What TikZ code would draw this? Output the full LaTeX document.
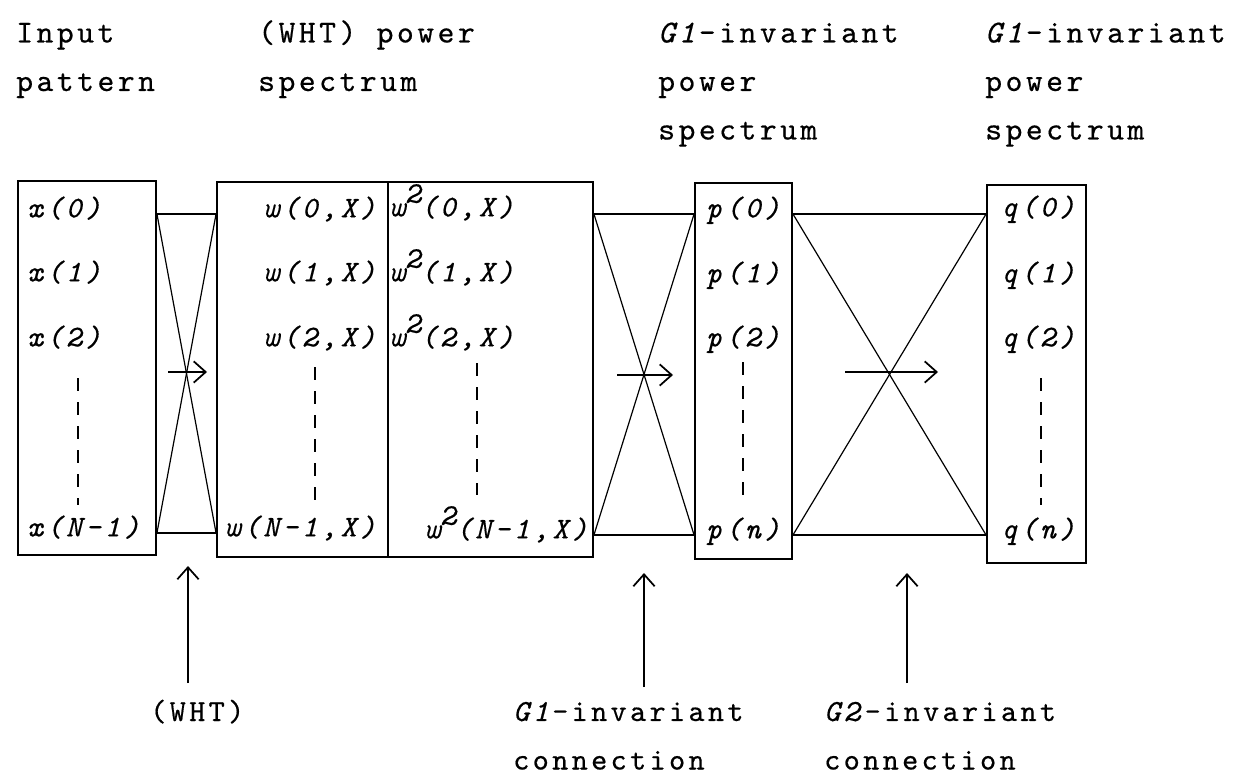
\documentclass[tikz,border=0pt]{standalone}
\usepackage{fontspec}
\usetikzlibrary{arrows.meta}
\newfontfamily\lblfont{lmmono10-regular.otf}[ItalicFont=lmmono10-italic.otf,LetterSpace=12,FakeBold=0.5]
\newfontfamily\hdrfont{lmmono10-regular.otf}[ItalicFont=lmmono10-italic.otf,LetterSpace=11,FakeBold=0.5]
\begin{document}
\begin{tikzpicture}[x=0.75pt,y=-0.75pt,
  box/.style={draw,line width=1.4pt,inner sep=0pt},
  cell/.style={inner sep=0pt,text height=0.75em,text depth=0.25em,font={\lblfont\itshape\fontsize{22.5pt}{24pt}\selectfont}},
  hdr/.style={inner sep=0pt,align=left,font={\hdrfont\fontsize{24pt}{36.4pt}\selectfont}},
  btm/.style={inner sep=0pt,align=left,font={\hdrfont\fontsize{23pt}{36.4pt}\selectfont}},
  xline/.style={line width=0.9pt},
  dashln/.style={line width=1pt,dash pattern=on 10pt off 8pt},
  arr/.style={line width=1.3pt,-{Straight Barb[length=9pt,width=16pt,line width=1.3pt]}}
]
\useasboundingbox (0,0) rectangle (1234,777);
% boxes
\node[box,minimum width=103.5pt,minimum height=280.5pt] (xbox) at (87,368) {};
\node[box,minimum width=128.25pt,minimum height=281.25pt] (wbox) at (302.5,369.5) {};
\node[box,minimum width=153.75pt,minimum height=281.25pt] (w2box) at (490.5,369.5) {};
\node[box,minimum width=72.75pt,minimum height=282pt] (pbox) at (743.5,371) {};
\node[box,minimum width=74.25pt,minimum height=283.5pt] (qbox) at (1036.5,374) {};
% x labels
\node[cell,anchor=west] (x0) at (27,214) {x(0)};
\node[cell,anchor=west] (x1) at (27,278) {x(1)};
\node[cell,anchor=west] (x2) at (27,343) {x(2)};
\node[cell,anchor=west] (xN) at (27,533) {x(N-1)};
% w labels
\node[cell,anchor=east] (w0) at (376,214) {w(0,X)};
\node[cell,anchor=east] (w1) at (376,278) {w(1,X)};
\node[cell,anchor=east] (w2) at (376,343) {w(2,X)};
\node[cell,anchor=east] (wN) at (376,533) {w(N-1,X)};
% w^2 labels
\node[cell,anchor=west] (v0) at (389,213) {w\raisebox{0.45em}{2}(0,X)};
\node[cell,anchor=west] (v1) at (389,278) {w\raisebox{0.45em}{2}(1,X)};
\node[cell,anchor=west] (v2) at (389,343) {w\raisebox{0.45em}{2}(2,X)};
\node[cell,anchor=east] (vN) at (588,535) {w\raisebox{0.45em}{2}(N-1,X)};
% p labels
\node[cell,anchor=west] (p0) at (706,214) {p(0)};
\node[cell,anchor=west] (p1) at (706,279) {p(1)};
\node[cell,anchor=west] (p2) at (706,343) {p(2)};
\node[cell,anchor=west] (pN) at (706,535) {p(n)};
% q labels
\node[cell,anchor=west] (q0) at (1001,213) {q(0)};
\node[cell,anchor=west] (q1) at (1001,279) {q(1)};
\node[cell,anchor=west] (q2) at (1001,343) {q(2)};
\node[cell,anchor=west] (qN) at (1001,535) {q(n)};
% dashed continuation lines
\draw[dashln] (78,378) -- (78,505);
\draw[dashln] (315,367) -- (315,505);
\draw[dashln] (477,363) -- (477,495);
\draw[dashln] (743,362) -- (743,503);
\draw[dashln] (1041,378) -- (1041,505);
% connections x -> w
\draw[xline] (xbox.east |- x0) -- (wbox.west |- x0);
\draw[xline] (xbox.east |- xN) -- (wbox.west |- xN);
\draw[xline] (xbox.east |- x0) -- (wbox.west |- xN);
\draw[xline] (xbox.east |- xN) -- (wbox.west |- x0);
% connections w2 -> p
\draw[xline] (w2box.east |- p0) -- (pbox.west |- p0);
\draw[xline] (w2box.east |- pN) -- (pbox.west |- pN);
\draw[xline] (w2box.east |- p0) -- (pbox.west |- pN);
\draw[xline] (w2box.east |- pN) -- (pbox.west |- p0);
% connections p -> q
\draw[xline] (pbox.east |- p0) -- (qbox.west |- p0);
\draw[xline] (pbox.east |- pN) -- (qbox.west |- pN);
\draw[xline] (pbox.east |- p0) -- (qbox.west |- pN);
\draw[xline] (pbox.east |- pN) -- (qbox.west |- p0);
% flow arrows
\coordinate (a1s) at (168,372); \coordinate (a1e) at (207,372);
\coordinate (a2s) at (617,375); \coordinate (a2e) at (673,375);
\coordinate (a3s) at (845,372); \coordinate (a3e) at (938,372);
\draw[arr] (a1s) -- (a1e);
\draw[arr] (a2s) -- (a2e);
\draw[arr] (a3s) -- (a3e);
% headers (anchored at the baseline of their last line)
\node[hdr,anchor=base west] (h1) at (16,91) {Input\\pattern};
\node[hdr,anchor=base west] (h2) at (258,91) {(WHT) power\\spectrum};
\node[hdr,anchor=base west] (h3) at (658,139.5) {\textit{G1}-invariant\\power\\spectrum};
\node[hdr,anchor=base west] (h4) at (985,139.5) {\textit{G1}-invariant\\power\\spectrum};
% bottom labels
\node[btm,anchor=base west] (b1) at (150,721) {(WHT)};
\node[btm,anchor=base west] (b2) at (513,769.5) {\textit{G1}-invariant\\connection};
\node[btm,anchor=base west] (b3) at (824,769.5) {\textit{G2}-invariant\\connection};
% pointer arrows
\coordinate (s1) at (188,683); \coordinate (t1) at (188,566);
\coordinate (s2) at (644,687); \coordinate (t2) at (644,573);
\coordinate (s3) at (907,683); \coordinate (t3) at (907,573);
\draw[arr] (s1) -- (t1);
\draw[arr] (s2) -- (t2);
\draw[arr] (s3) -- (t3);
\end{tikzpicture}
\end{document}
